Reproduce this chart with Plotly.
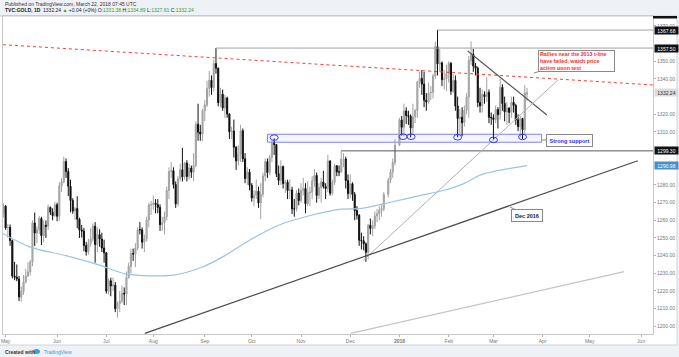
import pandas as pd
import plotly.graph_objects as go

# ---------------- data (TVC:GOLD daily) ----------------
holidays = ["2017-12-25", "2018-01-01"]
dates = [d for d in pd.bdate_range("2017-04-27", "2018-03-22")
         if d.strftime("%Y-%m-%d") not in holidays]

opens = [
    1265.0, 1263.7,
    1268.0, 1255.7, 1256.0, 1248.5, 1228.5, 1227.8, 1226.8, 1216.6, 1219.7, 1225.0, 1228.4, 1230.8, 1236.3, 1258.5, 1252.8, 1254.6, 1261.0, 1251.3, 1257.2, 1256.6, 1267.3, 1264.6, 1262.6,
    1268.8, 1262.3, 1279.5, 1281.8, 1293.3, 1287.6, 1279.3, 1271.2, 1265.2, 1266.7, 1260.6, 1254.6, 1253.9, 1245.7, 1242.2, 1246.8, 1249.4, 1256.7, 1246.3, 1251.9, 1249.4, 1244.3,
    1241.6, 1219.9, 1225.8, 1222.8, 1223.3, 1209.9, 1212.8, 1214.4, 1218.7, 1218.3, 1227.6, 1233.9, 1241.2, 1240.9, 1244.5, 1254.7, 1254.6, 1247.6, 1249.5, 1260.2, 1268.7,
    1268.9, 1269.7, 1268.9, 1267.3, 1257.5, 1258.7, 1262.0, 1276.9, 1287.6, 1288.1, 1280.3, 1269.3, 1283.5, 1288.6, 1284.6, 1292.4, 1284.8, 1289.6, 1287.2, 1291.0, 1314.4, 1309.9, 1308.8,
    1322.0, 1325.3, 1334.6, 1339.3, 1335.1, 1348.7, 1346.1, 1326.6, 1331.4, 1323.6, 1329.2, 1320.2, 1310.1, 1310.5, 1301.4, 1293.6, 1297.5, 1310.7, 1294.8, 1283.6, 1287.3,
    1279.8, 1272.6, 1274.3, 1276.5, 1269.8, 1274.7, 1285.1, 1293.2, 1287.1, 1295.7, 1303.6, 1302.9, 1286.4, 1282.6, 1290.4, 1280.8, 1281.6, 1276.9, 1277.2, 1266.4, 1266.4, 1275.4,
    1271.2, 1276.9, 1278.0, 1269.4, 1275.6, 1275.9, 1282.5, 1285.4, 1274.1, 1278.5, 1281.7, 1279.2, 1278.0, 1293.6, 1275.3, 1281.3, 1290.9, 1287.4, 1287.3, 1294.7, 1294.7, 1282.5,
    1275.1, 1280.7, 1274.6, 1265.5, 1262.9, 1248.7, 1248.4, 1246.7, 1241.9, 1257.2, 1255.4, 1256.8, 1262.5, 1263.7, 1265.7, 1266.6, 1274.6, 1282.7, 1287.3, 1292.7,
    1302.6, 1316.8, 1312.7, 1321.9, 1319.3, 1318.9, 1312.3, 1318.5, 1322.1, 1338.3, 1340.3, 1337.1, 1327.9, 1326.9, 1332.1, 1332.5, 1341.7, 1358.3, 1348.5, 1349.1, 1339.6, 1340.1,
    1343.1, 1348.9, 1333.1, 1339.2, 1324.7, 1317.6, 1318.4, 1315.2, 1322.4, 1329.9, 1350.5, 1353.9, 1347.3, 1346.1, 1326.7, 1324.8, 1331.2, 1330.0, 1332.5, 1318.3,
    1318.1, 1317.0, 1322.7, 1319.8, 1335.3, 1326.1, 1321.3, 1323.5, 1321.1, 1326.8, 1325.0, 1316.9, 1313.0, 1317.6, 1311.3, 1331.38,
]
highs = [
    1269.5, 1269.7,
    1268.6, 1258.0, 1257.6, 1249.0, 1236.5, 1235.0, 1228.5, 1222.6, 1229.0, 1232.5, 1236.3, 1237.6, 1260.0, 1264.4, 1256.6, 1262.5, 1262.0, 1260.0, 1259.9, 1269.0, 1267.8, 1266.8, 1270.5,
    1270.0, 1281.6, 1283.8, 1296.0, 1295.0, 1289.5, 1283.0, 1272.5, 1267.6, 1273.6, 1261.5, 1257.4, 1255.7, 1247.8, 1249.5, 1255.5, 1258.3, 1259.0, 1256.0, 1255.0, 1253.0, 1249.0,
    1242.0, 1227.0, 1227.5, 1227.5, 1225.0, 1214.0, 1220.0, 1223.0, 1222.0, 1231.0, 1236.0, 1244.0, 1244.0, 1247.0, 1256.0, 1259.0, 1256.0, 1252.0, 1262.0, 1270.0, 1271.0,
    1274.0, 1272.0, 1272.0, 1269.0, 1262.0, 1265.0, 1279.0, 1290.0, 1293.0, 1290.0, 1282.0, 1285.0, 1292.0, 1301.0, 1293.0, 1294.0, 1292.0, 1291.0, 1298.0, 1316.0, 1326.0, 1314.0, 1323.0,
    1328.0, 1339.0, 1344.5, 1342.0, 1351.0, 1357.5, 1346.5, 1335.0, 1334.0, 1331.0, 1330.0, 1320.5, 1313.0, 1317.0, 1302.0, 1302.5, 1314.0, 1312.0, 1298.0, 1290.0, 1289.0,
    1281.0, 1277.0, 1283.0, 1279.0, 1281.0, 1287.0, 1295.0, 1295.0, 1297.0, 1305.0, 1306.4, 1303.0, 1291.0, 1294.0, 1291.0, 1283.0, 1283.0, 1283.0, 1279.0, 1272.0, 1277.0, 1278.0,
    1281.0, 1284.0, 1281.0, 1282.0, 1279.0, 1285.0, 1289.0, 1287.0, 1281.0, 1284.0, 1288.0, 1281.0, 1297.0, 1294.0, 1283.0, 1292.0, 1291.0, 1291.0, 1299.3, 1298.0, 1296.0, 1286.0,
    1286.0, 1281.5, 1276.0, 1268.0, 1263.5, 1253.0, 1251.0, 1247.5, 1258.0, 1261.0, 1260.0, 1265.0, 1266.5, 1268.0, 1269.0, 1276.0, 1284.0, 1289.0, 1295.0, 1306.0,
    1318.0, 1319.0, 1326.0, 1324.0, 1322.0, 1320.0, 1326.0, 1323.0, 1339.0, 1344.0, 1345.0, 1344.0, 1332.0, 1338.0, 1336.0, 1343.0, 1361.0, 1367.7, 1357.0, 1350.0, 1345.0, 1348.0,
    1350.0, 1349.5, 1343.0, 1342.0, 1330.0, 1323.0, 1324.0, 1325.0, 1332.0, 1353.0, 1361.3, 1357.0, 1349.0, 1347.0, 1335.0, 1334.0, 1333.0, 1341.0, 1334.0, 1321.0,
    1320.0, 1325.0, 1324.0, 1340.0, 1337.0, 1330.0, 1327.0, 1324.0, 1330.0, 1330.0, 1326.0, 1320.0, 1319.0, 1318.0, 1336.5, 1334.89,
]
lows = [
    1260.9, 1261.6,
    1254.6, 1250.0, 1245.6, 1227.1, 1226.1, 1225.5, 1214.3, 1214.0, 1217.8, 1224.3, 1228.0, 1228.7, 1234.0, 1245.5, 1246.9, 1252.2, 1246.0, 1247.5, 1250.0, 1254.5, 1263.0, 1260.0, 1262.0,
    1259.5, 1259.9, 1276.0, 1280.9, 1284.0, 1273.7, 1264.5, 1263.7, 1260.2, 1255.5, 1250.0, 1250.2, 1242.5, 1240.0, 1240.5, 1245.0, 1248.0, 1236.0, 1242.0, 1245.0, 1242.0, 1236.0,
    1218.5, 1218.0, 1217.0, 1220.0, 1208.0, 1204.9, 1208.0, 1213.0, 1212.0, 1212.0, 1227.0, 1230.0, 1237.0, 1233.5, 1243.0, 1252.0, 1244.0, 1242.0, 1248.0, 1256.0, 1263.0,
    1266.0, 1264.0, 1264.0, 1254.0, 1254.0, 1252.0, 1260.0, 1272.0, 1284.0, 1278.0, 1267.0, 1268.0, 1282.0, 1282.0, 1283.0, 1282.0, 1283.0, 1284.0, 1282.0, 1290.0, 1305.0, 1305.0, 1305.0,
    1316.0, 1324.0, 1330.0, 1331.0, 1333.0, 1343.0, 1324.5, 1324.0, 1322.0, 1318.0, 1318.0, 1306.0, 1306.0, 1295.5, 1288.5, 1291.0, 1293.0, 1293.0, 1281.0, 1280.0, 1277.0,
    1270.5, 1268.0, 1272.0, 1267.0, 1260.7, 1273.0, 1282.0, 1284.0, 1285.5, 1293.0, 1297.0, 1284.5, 1280.0, 1280.0, 1278.0, 1275.5, 1272.0, 1272.0, 1263.5, 1262.0, 1265.0, 1268.5,
    1270.0, 1274.0, 1264.0, 1268.0, 1268.0, 1272.0, 1279.0, 1270.0, 1272.0, 1270.0, 1278.0, 1272.0, 1276.0, 1274.0, 1274.0, 1280.0, 1285.0, 1285.0, 1287.0, 1290.0, 1278.0, 1272.0,
    1272.5, 1271.0, 1260.0, 1260.5, 1245.5, 1243.5, 1243.0, 1236.5, 1238.0, 1252.0, 1251.0, 1255.0, 1259.0, 1260.0, 1262.0, 1265.0, 1273.0, 1281.0, 1284.0, 1291.0,
    1302.0, 1308.0, 1307.5, 1314.5, 1314.0, 1307.0, 1309.0, 1315.0, 1318.0, 1335.0, 1331.0, 1324.0, 1322.0, 1326.0, 1328.0, 1329.0, 1340.0, 1342.0, 1344.0, 1336.0, 1334.0, 1333.0,
    1338.0, 1331.0, 1332.0, 1322.0, 1307.0, 1309.0, 1307.5, 1313.0, 1320.0, 1318.0, 1348.0, 1344.0, 1342.0, 1324.0, 1321.0, 1321.0, 1326.0, 1327.0, 1315.0, 1314.0,
    1305.5, 1315.0, 1312.0, 1317.0, 1322.0, 1316.0, 1314.0, 1315.0, 1318.0, 1321.0, 1314.0, 1310.5, 1307.0, 1306.0, 1309.0, 1327.61,
]
closes = [
    1263.7, 1268.3,
    1255.7, 1256.0, 1248.5, 1228.5, 1227.8, 1226.8, 1216.6, 1219.7, 1225.0, 1228.4, 1230.8, 1236.3, 1258.5, 1252.8, 1254.6, 1261.0, 1251.3, 1257.2, 1256.6, 1267.3, 1264.6, 1262.6, 1268.8,
    1262.3, 1279.5, 1281.8, 1293.3, 1287.6, 1279.3, 1271.2, 1265.2, 1266.7, 1260.6, 1254.6, 1253.9, 1245.7, 1242.2, 1246.8, 1249.4, 1256.7, 1246.3, 1251.9, 1249.4, 1244.3, 1241.6,
    1219.9, 1225.8, 1222.8, 1223.3, 1209.9, 1212.8, 1214.4, 1218.7, 1218.3, 1227.6, 1233.9, 1241.2, 1240.9, 1244.5, 1254.7, 1254.6, 1247.6, 1249.5, 1260.2, 1268.7, 1268.9,
    1269.7, 1268.9, 1267.3, 1257.5, 1258.7, 1262.0, 1276.9, 1287.6, 1288.1, 1280.3, 1269.3, 1283.5, 1288.6, 1284.6, 1292.4, 1284.8, 1289.6, 1287.2, 1291.0, 1314.4, 1309.9, 1308.8, 1322.0,
    1325.3, 1334.6, 1339.3, 1335.1, 1348.7, 1346.1, 1326.6, 1331.4, 1323.6, 1329.2, 1320.2, 1310.1, 1310.5, 1301.4, 1293.6, 1297.5, 1310.7, 1294.8, 1283.6, 1287.3, 1279.8,
    1272.6, 1274.3, 1276.5, 1269.8, 1274.7, 1285.1, 1293.2, 1287.1, 1295.7, 1303.6, 1302.9, 1286.4, 1282.6, 1290.4, 1280.8, 1281.6, 1276.9, 1277.2, 1266.4, 1266.4, 1275.4, 1271.2,
    1276.9, 1278.0, 1269.4, 1275.6, 1275.9, 1282.5, 1285.4, 1274.1, 1278.5, 1281.7, 1279.2, 1278.0, 1293.6, 1275.3, 1281.3, 1290.9, 1287.4, 1287.3, 1294.7, 1294.7, 1282.5, 1275.1,
    1280.7, 1274.6, 1265.5, 1262.9, 1248.7, 1248.4, 1246.7, 1241.9, 1257.2, 1255.4, 1256.8, 1262.5, 1263.7, 1265.7, 1266.6, 1274.6, 1282.7, 1287.3, 1292.7, 1302.6,
    1316.8, 1312.7, 1321.9, 1319.3, 1318.9, 1312.3, 1318.5, 1322.1, 1338.3, 1340.3, 1337.1, 1327.9, 1326.9, 1332.1, 1332.5, 1341.7, 1358.3, 1348.5, 1349.1, 1339.6, 1340.1, 1343.1,
    1348.9, 1333.1, 1339.2, 1324.7, 1317.6, 1318.4, 1315.2, 1322.4, 1329.9, 1350.5, 1353.9, 1347.3, 1346.1, 1326.7, 1324.8, 1331.2, 1330.0, 1332.5, 1318.3, 1318.1,
    1317.0, 1322.7, 1319.8, 1335.3, 1326.1, 1321.3, 1323.5, 1321.1, 1326.8, 1325.0, 1316.9, 1313.0, 1317.6, 1311.3, 1332.2, 1332.24,
]

# 200-day moving average, read at points along the blue line
ma_dates = ["2017-04-27", "2017-05-16", "2017-06-07", "2017-06-28", "2017-07-14", "2017-08-14",
            "2017-08-31", "2017-09-14", "2017-09-29", "2017-10-18", "2017-11-03", "2017-11-27",
            "2017-12-08", "2017-12-28", "2018-01-16", "2018-01-30", "2018-02-12", "2018-02-21",
            "2018-03-06", "2018-03-22"]
ma_values = [1253.0, 1244.8, 1240.0, 1234.6, 1229.5, 1229.0,
             1233.6, 1240.0, 1248.7, 1257.2, 1262.0, 1266.3,
             1266.7, 1270.5, 1274.2, 1277.0, 1280.9, 1285.6,
             1288.4, 1290.98]

month_ticks = ["2017-05-01", "2017-06-01", "2017-07-03", "2017-08-01", "2017-09-01", "2017-10-02",
               "2017-11-01", "2017-12-01", "2018-01-02", "2018-02-01", "2018-03-01", "2018-04-02",
               "2018-05-01", "2018-06-01"]
month_labels = ["May", "Jun", "Jul", "Aug", "Sep", "Oct", "Nov", "Dec", "<b>2018</b>",
                "Feb", "Mar", "Apr", "May", "Jun"]

# price ticks visible on the axis (the others are covered by level labels)
price_ticks = [1200, 1210, 1220, 1230, 1240, 1250, 1260, 1270, 1280, 1310, 1320, 1340, 1350, 1370]

# support/resistance levels shown on the price axis
level_top = 1367.68
level_sep = 1357.50
level_nov = 1299.30
last_price = 1332.24
ma_last = 1290.98

# ---------------- layout helpers ----------------
W, H = 679, 357
LM, RM, TM, BM = 3, 26, 16, 23
PW, PH = W - LM - RM, H - TM - BM
X_RANGE = ["2017-04-27 19:55", "2018-06-08 07:12"]
Y_RANGE = [1195.64, 1375.64]
FONT = "Liberation Sans, Arial, sans-serif"


def px_x(px):
    return (px - LM) / PW


def px_y(py):
    return (H - BM - py) / PH


fig = go.Figure()

fig.add_trace(go.Scatter(
    x=ma_dates, y=ma_values, mode="lines",
    line=dict(color="#9ec4df", width=1.2, shape="spline", smoothing=0.8),
    hoverinfo="skip", showlegend=False))

fig.add_trace(go.Candlestick(
    x=dates, open=opens, high=highs, low=lows, close=closes,
    increasing=dict(line=dict(color="#a2a2a2", width=1), fillcolor="#b4b4b4"),
    decreasing=dict(line=dict(color="#111111", width=1), fillcolor="#000000"),
    whiskerwidth=0, showlegend=False))

shapes = []
# header / footer bands
shapes.append(dict(type="rect", xref="paper", yref="paper", x0=px_x(0), x1=px_x(W),
                   y0=px_y(0), y1=px_y(16), fillcolor="#eef1f6", line=dict(width=0), layer="below"))
shapes.append(dict(type="rect", xref="paper", yref="paper", x0=px_x(0), x1=px_x(W),
                   y0=px_y(345), y1=px_y(H), fillcolor="#eef1f6", line=dict(width=0), layer="below"))
shapes.append(dict(type="rect", xref="paper", yref="paper", x0=px_x(677), x1=px_x(W),
                   y0=px_y(16), y1=px_y(345), fillcolor="#eef1f6", line=dict(width=0), layer="below"))
shapes.append(dict(type="line", xref="paper", yref="paper", x0=px_x(677), x1=px_x(677),
                   y0=px_y(16), y1=px_y(345), line=dict(color="#d0d4da", width=1)))
shapes.append(dict(type="line", xref="paper", yref="paper", x0=px_x(0), x1=px_x(677),
                   y0=px_y(345), y1=px_y(345), line=dict(color="#d0d4da", width=1)))
shapes.append(dict(type="line", xref="paper", yref="paper", x0=px_x(0), x1=px_x(677),
                   y0=px_y(16), y1=px_y(16), line=dict(color="#c8ccd2", width=1)))

# support box
shapes.append(dict(type="rect", xref="x", yref="y", x0="2017-10-11", x1="2018-03-30 12:00",
                   y0=1304.2, y1=1308.7, fillcolor="rgba(110,110,255,0.07)",
                   line=dict(color="#7f7fff", width=1), layer="below"))

# red 2013 trend-line (dotted)
shapes.append(dict(type="line", xref="x", yref="y", x0=X_RANGE[0], x1=X_RANGE[1],
                   y0=1359.4, y1=1336.6, line=dict(color="#ff3b3b", width=1, dash="dot")))
# horizontal levels
shapes.append(dict(type="line", xref="x", yref="y", x0="2018-01-25", x1=X_RANGE[1],
                   y0=level_top, y1=level_top, line=dict(color="#a0a0a0", width=1)))
shapes.append(dict(type="line", xref="x", yref="y", x0="2017-09-08", x1=X_RANGE[1],
                   y0=level_sep, y1=level_sep, line=dict(color="#a0a0a0", width=1)))
shapes.append(dict(type="line", xref="x", yref="y", x0="2017-11-27", x1=X_RANGE[1],
                   y0=level_nov, y1=level_nov, line=dict(color="#5a5a5a", width=1)))
# trend lines
shapes.append(dict(type="line", xref="x", yref="y", x0="2018-02-13 12:00", x1="2018-04-03 21:36",
                   y0=1355.8, y1=1319.6, line=dict(color="#555555", width=1.1)))
shapes.append(dict(type="line", xref="x", yref="y", x0="2017-12-11", x1="2018-04-10 19:12",
                   y0=1237.5, y1=1339.4, line=dict(color="#b0b0b0", width=1)))
shapes.append(dict(type="line", xref="x", yref="y", x0="2017-07-26 05:00", x1="2018-05-30 12:00",
                   y0=1196.0, y1=1293.7, line=dict(color="#4a4a4a", width=1.2)))
shapes.append(dict(type="line", xref="x", yref="y", x0="2017-12-01 05:00", x1="2018-05-22 09:36",
                   y0=1196.0, y1=1230.9, line=dict(color="#c4c4c4", width=1.2)))

# blue ellipses marking tests of support
for d, p in [("2017-10-16", 1306.8), ("2018-01-03 14:00", 1307.3), ("2018-01-09 05:00", 1307.3),
             ("2018-02-07", 1307.0), ("2018-03-01", 1305.5), ("2018-03-20", 1307.2)]:
    shapes.append(dict(type="circle", xref="x", yref="y", xsizemode="pixel", ysizemode="pixel",
                       xanchor=d, yanchor=p, x0=-4, x1=4, y0=-2.8, y1=2.8,
                       line=dict(color="#3838ff", width=1)))

# partially hidden axis label at the very top
shapes.append(dict(type="rect", xref="paper", yref="paper", x0=px_x(653), x1=px_x(677),
                   y0=px_y(16), y1=px_y(18.5), fillcolor="#111111", line=dict(width=0)))
# footer logo
shapes.append(dict(type="circle", xref="paper", yref="paper", x0=px_x(33), x1=px_x(40),
                   y0=px_y(354), y1=px_y(349), fillcolor="#3aa0e6", line=dict(width=0)))

annotations = []
annotations.append(dict(xref="paper", yref="paper", x=px_x(3), y=px_y(4), xanchor="left",
                        yanchor="middle", showarrow=False,
                        text="Published on TradingView.com, March 22, 2018 07:45 UTC",
                        font=dict(family=FONT, size=5, color="#333333")))
g = "#2e9e3e"
annotations.append(dict(xref="paper", yref="paper", x=px_x(3), y=px_y(10.5), xanchor="left",
                        yanchor="middle", showarrow=False,
                        text=("<b>TVC:GOLD, 1D</b>  1332.24 <span style='color:%s'>▲</span> +0.04 (+0%%) "
                              "O:<span style='color:%s'>1331.38</span> H:<span style='color:%s'>1334.89</span> "
                              "L:<span style='color:%s'>1327.61</span> C:<span style='color:%s'>1332.24</span>")
                        % (g, g, g, g, g),
                        font=dict(family=FONT, size=5, color="#222222")))
annotations.append(dict(xref="paper", yref="paper", x=px_x(3), y=px_y(352), xanchor="left",
                        yanchor="middle", showarrow=False, text="<b>Created with</b>",
                        font=dict(family=FONT, size=5, color="#333333")))
annotations.append(dict(xref="paper", yref="paper", x=px_x(42), y=px_y(352), xanchor="left",
                        yanchor="middle", showarrow=False, text="TradingView",
                        font=dict(family=FONT, size=5, color="#2e9be6")))

# price-axis labels
for price, txt, bg, fg in [(level_top, "1367.68", "#111111", "#ffffff"),
                           (level_sep, "1357.50", "#111111", "#ffffff"),
                           (last_price, "1332.24", "#dcdcdc", "#333333"),
                           (level_nov, "1299.30", "#111111", "#ffffff"),
                           (ma_last, "1290.98", "#4a8fc4", "#ffffff")]:
    annotations.append(dict(xref="paper", yref="y", x=1.0, y=price, xanchor="left",
                            yanchor="middle", showarrow=False, text=txt, width=22, height=6,
                            bgcolor=bg, borderpad=0.5, xshift=0.5,
                            font=dict(family=FONT, size=5, color=fg)))

# callouts
annotations.append(dict(xref="paper", yref="paper", x=px_x(534), y=px_y(73),
                        ax=42.5, ay=-12.3, showarrow=True, arrowhead=0, arrowwidth=1,
                        arrowcolor="#888888", standoff=0,
                        text="<b>Rallies near the 2013 t-line<br>have failed, watch price<br>action upon test</b>",
                        align="left", width=73, height=18, bgcolor="#ffffff",
                        bordercolor="#8a8a8a", borderwidth=1, borderpad=1,
                        font=dict(family=FONT, size=5.3, color="#ff2a2a")))
annotations.append(dict(xref="paper", yref="paper", x=px_x(542), y=px_y(140),
                        ax=27.5, ay=0, showarrow=True, arrowhead=0, arrowwidth=1,
                        arrowcolor="#888888", standoff=0,
                        text="<b>Strong support</b>", align="center", width=43, height=9,
                        bgcolor="#ffffff", bordercolor="#8a8a8a", borderwidth=1, borderpad=1,
                        font=dict(family=FONT, size=5.5, color="#2b2bff")))
annotations.append(dict(xref="paper", yref="paper", x=px_x(510), y=px_y(207),
                        ax=17.2, ay=8.5, showarrow=True, arrowhead=0, arrowwidth=1,
                        arrowcolor="#888888", standoff=0,
                        text="<b>Dec 2016</b>", align="center", width=28, height=9,
                        bgcolor="#ffffff", bordercolor="#8a8a8a", borderwidth=1, borderpad=1,
                        font=dict(family=FONT, size=5.5, color="#222222")))

fig.update_layout(
    width=W, height=H,
    margin=dict(l=LM, r=RM, t=TM, b=BM, pad=0, autoexpand=False),
    paper_bgcolor="#ffffff", plot_bgcolor="#ffffff",
    showlegend=False,
    shapes=shapes, annotations=annotations,
    xaxis=dict(
        type="date", range=X_RANGE, rangeslider=dict(visible=False), automargin=False,
        rangebreaks=[dict(bounds=["sat", "mon"])],
        tickmode="array", tickvals=month_ticks, ticktext=month_labels,
        showgrid=False, zeroline=False, showline=True, mirror=True, linecolor="#c8c8c8",
        ticks="outside", ticklen=2, tickcolor="#b0b0b0",
        tickfont=dict(family=FONT, size=5, color="#777777"),
    ),
    yaxis=dict(
        side="right", range=Y_RANGE, tickmode="array", tickvals=price_ticks,
        tickformat=".2f", automargin=False,
        showgrid=False, zeroline=False, showline=True, mirror=True, linecolor="#c8c8c8",
        ticks="outside", ticklen=2, tickcolor="#b0b0b0",
        tickfont=dict(family=FONT, size=5, color="#777777"),
    ),
)

fig.write_html("out.html", config={"displayModeBar": False},
               post_script="document.body.style.margin='0';document.body.style.overflow='hidden';")
